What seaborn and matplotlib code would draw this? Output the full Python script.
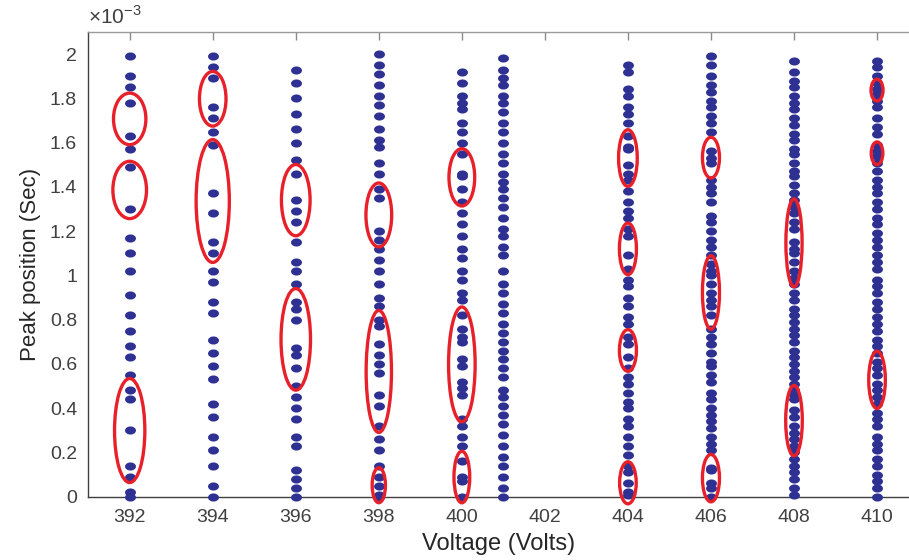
import numpy as np
import pandas as pd
import matplotlib
matplotlib.use("Agg")
import matplotlib.pyplot as plt
import seaborn as sns
from matplotlib.patches import Ellipse

# peak positions, in units of 1e-3 s, one list per voltage
v392 = [1.99, 1.90, 1.85, 1.78, 1.63, 1.57, 1.49, 1.30, 1.17, 1.10, 1.02, 0.91, 0.82, 0.75, 0.68, 0.63,
        0.55, 0.48, 0.44, 0.30, 0.14, 0.09, 0.02, 0.00]
v394 = [1.99, 1.94, 1.89, 1.76, 1.71, 1.65, 1.59, 1.37, 1.28, 1.15, 1.10, 1.02, 0.97, 0.88, 0.83, 0.71,
        0.65, 0.59, 0.53, 0.42, 0.36, 0.27, 0.21, 0.14, 0.05, 0.00]
v396 = [1.93, 1.87, 1.80, 1.73, 1.66, 1.60, 1.52, 1.46, 1.34, 1.29, 1.24, 1.15, 1.06, 1.02, 0.96, 0.88,
        0.85, 0.80, 0.67, 0.64, 0.58, 0.50, 0.45, 0.40, 0.35, 0.27, 0.23, 0.12, 0.08, 0.04, 0.00]
v398 = [2.00, 1.95, 1.91, 1.86, 1.81, 1.77, 1.72, 1.66, 1.61, 1.58, 1.51, 1.46, 1.39, 1.35, 1.20, 1.16,
        1.12, 1.07, 1.02, 0.96, 0.90, 0.86, 0.80, 0.77, 0.69, 0.64, 0.60, 0.56, 0.46, 0.41, 0.32, 0.26,
        0.21, 0.14, 0.09, 0.05, 0.01, 0.00]
v400 = [1.92, 1.87, 1.81, 1.78, 1.75, 1.69, 1.65, 1.60, 1.55, 1.46, 1.45, 1.39, 1.33, 1.28, 1.23, 1.18,
        1.12, 1.08, 1.02, 0.98, 0.92, 0.89, 0.82, 0.76, 0.72, 0.70, 0.62, 0.59, 0.52, 0.49, 0.46, 0.35,
        0.32, 0.27, 0.23, 0.16, 0.09, 0.07, 0.00]
v401 = [1.98, 1.93, 1.89, 1.86, 1.81, 1.78, 1.74, 1.69, 1.65, 1.60, 1.55, 1.51, 1.46, 1.42, 1.39, 1.35,
        1.31, 1.26, 1.21, 1.18, 1.13, 1.09, 1.02, 0.96, 0.92, 0.87, 0.83, 0.78, 0.74, 0.70, 0.66, 0.62,
        0.58, 0.54, 0.48, 0.45, 0.41, 0.37, 0.33, 0.28, 0.23, 0.18, 0.14, 0.09, 0.04, 0.00]
v404 = [1.95, 1.92, 1.84, 1.81, 1.76, 1.73, 1.69, 1.63, 1.58, 1.57, 1.50, 1.46, 1.43, 1.38, 1.33, 1.29,
        1.26, 1.21, 1.18, 1.09, 1.03, 0.98, 0.95, 0.90, 0.86, 0.81, 0.78, 0.72, 0.69, 0.63, 0.58, 0.54,
        0.51, 0.47, 0.43, 0.40, 0.35, 0.32, 0.27, 0.23, 0.19, 0.14, 0.11, 0.06, 0.02, 0.01]
v406 = [1.99, 1.95, 1.90, 1.86, 1.83, 1.79, 1.76, 1.72, 1.69, 1.65, 1.56, 1.53, 1.51, 1.43, 1.40, 1.37,
        1.33, 1.27, 1.24, 1.20, 1.16, 1.13, 1.09, 1.05, 1.02, 1.00, 0.96, 0.92, 0.89, 0.86, 0.82, 0.76,
        0.72, 0.69, 0.65, 0.61, 0.59, 0.55, 0.52, 0.47, 0.44, 0.40, 0.37, 0.34, 0.31, 0.27, 0.24, 0.21,
        0.13, 0.12, 0.06, 0.04, 0.00]
v408 = [1.97, 1.92, 1.88, 1.85, 1.81, 1.78, 1.75, 1.71, 1.68, 1.64, 1.61, 1.57, 1.55, 1.51, 1.47, 1.45,
        1.41, 1.37, 1.34, 1.31, 1.28, 1.24, 1.21, 1.15, 1.12, 1.10, 1.06, 1.02, 0.99, 0.96, 0.92, 0.89,
        0.85, 0.82, 0.79, 0.76, 0.73, 0.70, 0.66, 0.63, 0.60, 0.57, 0.54, 0.51, 0.48, 0.46, 0.44, 0.39,
        0.36, 0.32, 0.29, 0.26, 0.23, 0.20, 0.17, 0.14, 0.11, 0.08, 0.04, 0.01]
v410 = [1.97, 1.94, 1.90, 1.87, 1.84, 1.82, 1.79, 1.76, 1.71, 1.67, 1.64, 1.59, 1.56, 1.54, 1.51, 1.47,
        1.43, 1.40, 1.37, 1.33, 1.30, 1.26, 1.23, 1.19, 1.16, 1.13, 1.09, 1.06, 1.03, 0.98, 0.95, 0.92,
        0.88, 0.85, 0.81, 0.78, 0.75, 0.71, 0.68, 0.65, 0.61, 0.58, 0.55, 0.51, 0.48, 0.45, 0.42, 0.38,
        0.35, 0.32, 0.27, 0.24, 0.21, 0.17, 0.14, 0.10, 0.07, 0.04, 0.00]

voltages = [392, 394, 396, 398, 400, 401, 404, 406, 408, 410]
columns = [v392, v394, v396, v398, v400, v401, v404, v406, v408, v410]

# highlighted clusters: voltage, centre, width (volts), height (1e-3 s)
ell_volt = [392, 392, 392, 394, 394, 396, 396, 398, 398, 398, 400, 400, 400,
            404, 404, 404, 404, 406, 406, 406, 408, 408, 410, 410, 410]
ell_centre = [1.707, 1.386, 0.299, 1.798, 1.336, 1.340, 0.711, 1.273, 0.566, 0.052, 1.443, 0.598, 0.089,
              1.530, 1.120, 0.661, 0.063, 1.532, 0.923, 0.084, 1.147, 0.344, 1.837, 1.552, 0.528]
ell_width = [0.78, 0.81, 0.73, 0.64, 0.80, 0.69, 0.71, 0.62, 0.61, 0.32, 0.62, 0.64, 0.38,
             0.45, 0.41, 0.41, 0.40, 0.41, 0.41, 0.41, 0.39, 0.40, 0.29, 0.28, 0.40]
ell_height = [0.233, 0.259, 0.470, 0.247, 0.555, 0.322, 0.459, 0.289, 0.551, 0.158, 0.259, 0.519, 0.233,
              0.256, 0.233, 0.188, 0.190, 0.184, 0.332, 0.214, 0.397, 0.318, 0.098, 0.102, 0.259]

df = pd.DataFrame({
    "voltage": np.repeat(voltages, [len(c) for c in columns]),
    "peak": np.concatenate(columns),
})

sns.set_style("white")
plt.rcParams["font.family"] = ["Liberation Sans", "DejaVu Sans"]
plt.rcParams["mathtext.fontset"] = "custom"
plt.rcParams["mathtext.rm"] = "Liberation Sans"

fig = plt.figure(figsize=(9.09, 5.6), dpi=100)
ax = fig.add_axes([0.097, 0.113, 0.903, 0.830])

t = np.linspace(0, 2 * np.pi, 40)
dot = np.column_stack([1.35 * np.cos(t), np.sin(t)])
sns.scatterplot(data=df, x="voltage", y="peak", ax=ax, color="#2E3192",
                marker=dot, s=62, linewidth=0, legend=False, clip_on=False, zorder=3)

for v, c, w, h in zip(ell_volt, ell_centre, ell_width, ell_height):
    ax.add_patch(Ellipse((v, c), w, h, fill=False, edgecolor="#E8202A", linewidth=2.4,
                         zorder=5, clip_on=False))

ax.set_xlim(391, 410.77)
ax.set_ylim(0, 2.1)
ax.set_xticks(np.arange(392, 411, 2))
ax.set_yticks(np.arange(0, 2.01, 0.2))
ax.yaxis.set_major_formatter(lambda x, pos: f"{x:g}")
ax.tick_params(direction="in", length=6, width=1, colors="#8a8a8a", labelcolor="#404040",
               labelsize=14, top=True, pad=8)
ax.tick_params(axis="x", pad=9)

ax.spines["right"].set_visible(False)
ax.spines["top"].set_color("#9a9a9a")
for side in ["left", "bottom"]:
    ax.spines[side].set_color("#404040")
for sp in ax.spines.values():
    sp.set_linewidth(1.0)

ax.set_xlabel("Voltage (Volts)", fontsize=17, color="#262626", labelpad=5)
ax.set_ylabel("Peak position (Sec)", fontsize=16, color="#262626", labelpad=6)
ax.text(0.0, 1.008, r"$\times10^{-3}$", transform=ax.transAxes, fontsize=15,
        color="#404040", ha="left", va="bottom")

fig.savefig("out.png", dpi=100)
